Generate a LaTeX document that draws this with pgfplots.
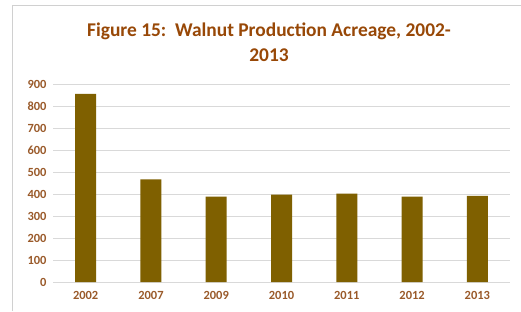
\documentclass[border=0pt]{standalone}
\usepackage{pgfplots}
\pgfplotsset{compat=1.18}
\usepackage{fontspec}
\setmainfont{Carlito}
\definecolor{titlebrown}{HTML}{984807}
\definecolor{tickbrown}{HTML}{9A5A2A}
\definecolor{barcol}{HTML}{7F6000}
\definecolor{gridgray}{HTML}{D9D9D9}
\definecolor{framegray}{HTML}{D0D0D0}
\begin{document}
\begin{tikzpicture}[x=1bp,y=1bp]
\useasboundingbox (0,0) rectangle (521,311);
\fill[white] (0,0) rectangle (521,311);
\draw[framegray, line width=0.8bp] (12,0) -- (12,306) -- (521,306);
\node[align=center, font=\fontsize{19.5}{25}\selectfont\bfseries, text=titlebrown] at (269,268.5)
  {Figure 15:\ \ Walnut Production Acreage, 2002-\\2013};
\begin{axis}[
  at={(53bp,29bp)}, anchor=south west,
  scale only axis, width=457bp, height=198bp,
  xmin=-0.5, xmax=6.5, ymin=0, ymax=900,
  ytick={0,100,...,900},
  xtick={0,...,6},
  xticklabels={2002,2007,2009,2010,2011,2012,2013},
  ymajorgrids, grid style={gridgray, line width=0.8bp},
  axis x line*=bottom, axis y line*=left,
  x axis line style={gridgray, line width=0.8bp, -},
  y axis line style={draw=none},
  major tick length=0pt,
  tick label style={font=\fontsize{12.5}{13}\selectfont\bfseries, text=tickbrown},
  /pgf/number format/assume math mode=true,
  yticklabel style={xshift=-3bp},
  xticklabel style={yshift=-6bp},
  clip=false,
]
\addplot[ybar, bar width=21bp, fill=barcol, draw=none] coordinates {
 (0,855) (1,467) (2,388) (3,397) (4,402) (5,388) (6,391)};
\end{axis}
\end{tikzpicture}
\end{document}
